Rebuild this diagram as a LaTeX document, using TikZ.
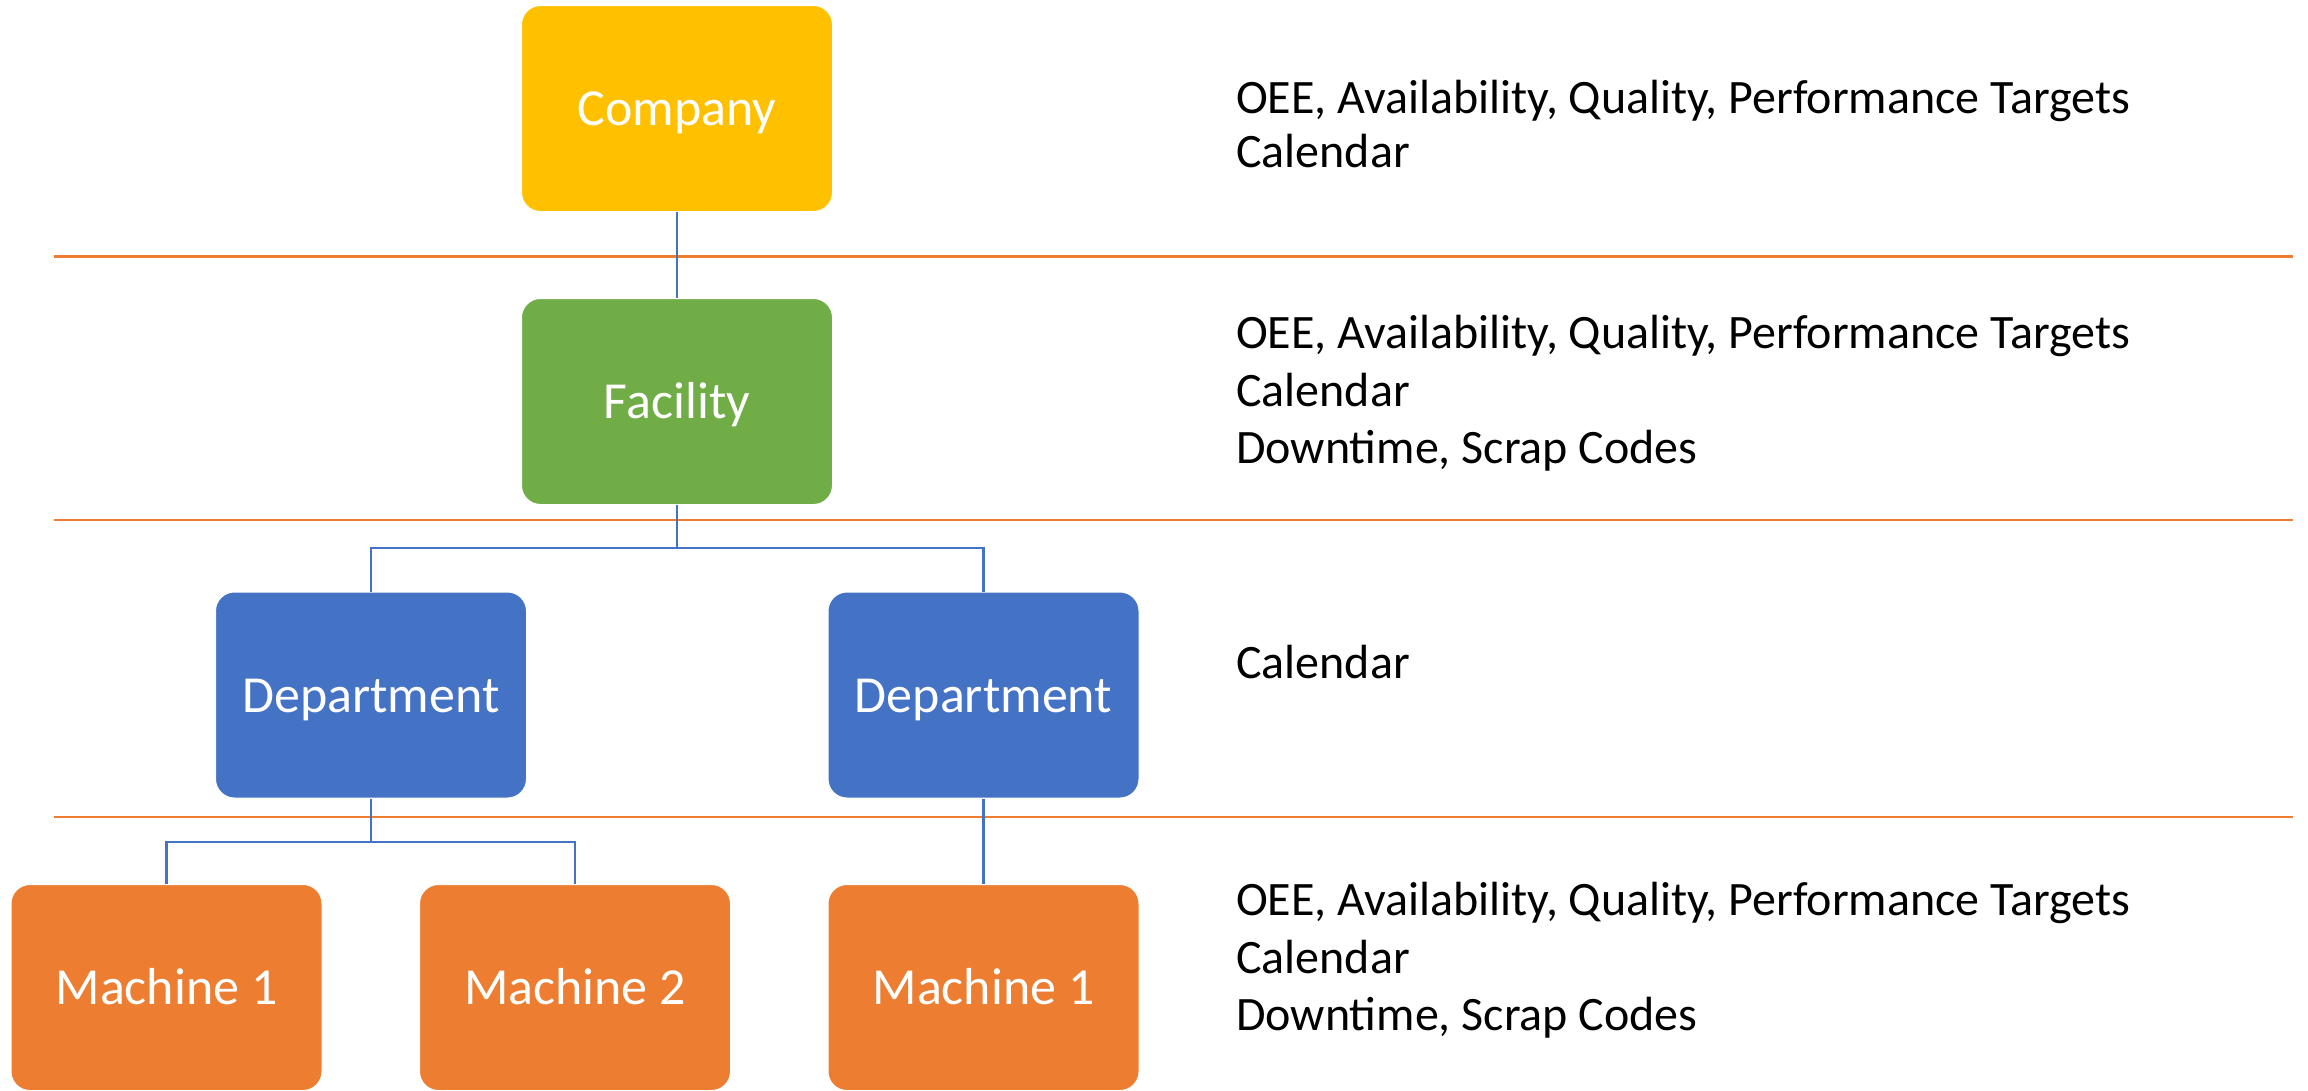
\documentclass[tikz,border=0pt]{standalone}
\usepackage{fontspec}
\setmainfont{Carlito}
\definecolor{cyellow}{HTML}{FFC000}
\definecolor{cgreen}{HTML}{70AD47}
\definecolor{cblue}{HTML}{4472C4}
\definecolor{corange}{HTML}{ED7D31}
\begin{document}
\begin{tikzpicture}[x=1pt,y=-1pt,
  box/.style={rounded corners=19pt, minimum width=311pt, minimum height=206pt,
    inner sep=0pt, text=white, font=\fontsize{52}{62}\selectfont,
    text height=34pt, text depth=0pt, draw=white, line width=1pt},
  conn/.style={draw=cblue, line width=2.4pt},
  sepline/.style={draw=corange, line width=2.75pt},
  info/.style={anchor=base west, inner sep=0pt, font=\fontsize{48}{57}\selectfont}]
\useasboundingbox (0,0) rectangle (2308,1090);

% separators
\draw[sepline] (54,256.5) -- (2293,256.5);
\draw[sepline] (54,520) -- (2293,520);
\draw[sepline] (54,817) -- (2293,817);

% boxes
\node[box, fill=cyellow] (company) at (677,108.5) {Company};
\node[box, fill=cgreen] (facility) at (677,401.5) {Facility};
\node[box, fill=cblue] (dept1) at (371,695) {Department};
\node[box, fill=cblue] (dept2) at (983.5,695) {Department};
\node[box, fill=corange] (m1) at (166.5,987.5) {Machine 1};
\node[box, fill=corange] (m2) at (575,987.5) {Machine 2};
\node[box, fill=corange] (m3) at (983.5,987.5) {Machine 1};

% connectors
\coordinate (j1) at (677,548);
\coordinate (j2) at (371,842);
\draw[conn] (company.south) -- (facility.north);
\draw[conn] (facility.south) -- (j1);
\draw[conn] (dept1.north) |- (j1) -| (dept2.north);
\draw[conn] (dept1.south) -- (j2);
\draw[conn] (m1.north) |- (j2) -| (m2.north);
\draw[conn] (dept2.south) -- (m3.north);

% info text
\node[info] (t1a) at (1236,113) {OEE, Availability, Quality, Performance Targets};
\node[info] (t1b) at (1236,167) {Calendar};
\node[info] (t2a) at (1236,348) {OEE, Availability, Quality, Performance Targets};
\node[info] (t2b) at (1236,406) {Calendar};
\node[info] (t2c) at (1236,463) {Downtime, Scrap Codes};
\node[info] (t3a) at (1236,678) {Calendar};
\node[info] (t4a) at (1236,915) {OEE, Availability, Quality, Performance Targets};
\node[info] (t4b) at (1236,973) {Calendar};
\node[info] (t4c) at (1236,1030) {Downtime, Scrap Codes};
\end{tikzpicture}
\end{document}
